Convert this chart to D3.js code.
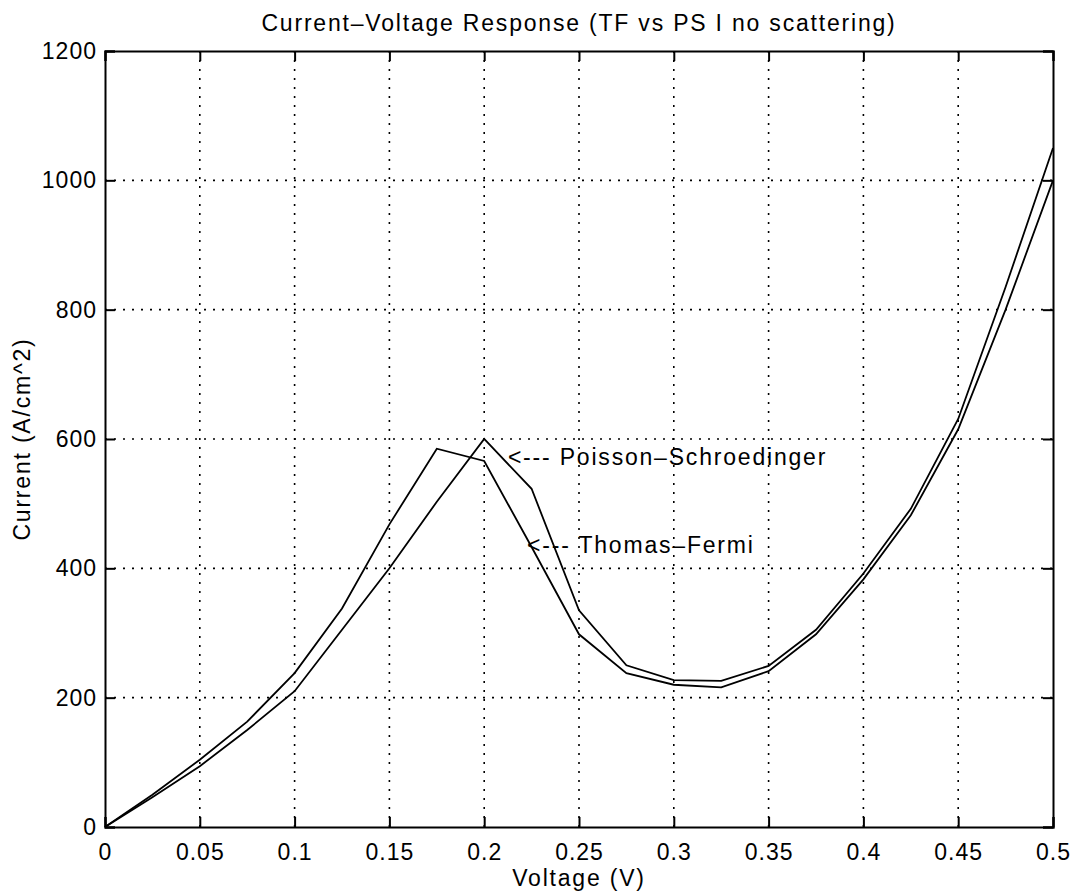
<!DOCTYPE html>
<html>
<head>
<meta charset="utf-8">
<script src="https://cdn.jsdelivr.net/npm/d3@7"></script>
<style>
  body { margin: 0; background: #fff; }
  text { font-family: "Liberation Sans", Arial, sans-serif; fill: #000; }
</style>
</head>
<body>
<svg id="chart"></svg>
<script>
// data
const voltage = [0, 0.025, 0.05, 0.075, 0.1, 0.125, 0.15, 0.175, 0.2, 0.225, 0.25,
                 0.275, 0.3, 0.325, 0.35, 0.375, 0.4, 0.425, 0.45, 0.475, 0.5];
const thomasFermi = [0, 50, 104, 163, 238, 338, 468, 585, 566, 433, 298,
                     238, 220, 216, 241, 298, 383, 482, 615, 800, 1000];
const poissonSchroedinger = [0, 46, 94, 150, 210, 305, 400, 503, 600, 523, 335,
                             250, 227, 226, 249, 305, 392, 492, 631, 835, 1050];
const xTicks = [0, 0.05, 0.1, 0.15, 0.2, 0.25, 0.3, 0.35, 0.4, 0.45, 0.5];
const yTicks = [0, 200, 400, 600, 800, 1000, 1200];
const annotations = [
  {label: "<--- Poisson\u2013Schroedinger", v: 0.2125, i: 560},
  {label: "<--- Thomas\u2013Fermi", v: 0.2226, i: 423}
];

const config = {
  width: 1074, height: 896,
  margin: {top: 51, right: 21, bottom: 69, left: 105},
  fontSize: '23px',
  spacing: '1.8px'
};

const svg = d3.select('#chart')
    .attr('width', config.width)
    .attr('height', config.height);

const w = config.width - config.margin.left - config.margin.right;
const h = config.height - config.margin.top - config.margin.bottom;

const chart = svg.append('g')
    .attr('transform', `translate(${config.margin.left},${config.margin.top})`);

const x = d3.scaleLinear().domain([0, 0.5]).range([0, w]);
const y = d3.scaleLinear().domain([0, 1200]).range([h, 0]);

// dotted grid
chart.selectAll('.vgrid')
    .data(xTicks.slice(1, -1))
    .join('line')
    .attr('x1', d => x(d)).attr('x2', d => x(d))
    .attr('y1', 0).attr('y2', h)
    .attr('stroke', '#000')
    .attr('stroke-width', 1.6)
    .attr('stroke-dasharray', '2,7');

chart.selectAll('.hgrid')
    .data(yTicks.slice(1, -1))
    .join('line')
    .attr('x1', 0).attr('x2', w)
    .attr('y1', d => y(d)).attr('y2', d => y(d))
    .attr('stroke', '#000')
    .attr('stroke-width', 1.6)
    .attr('stroke-dasharray', '2,7');

// axes, ticks pointing inside (matlab box style)
const fmtX = d => d === 0 ? '0' : String(+d.toFixed(2));
const tick = 10;

chart.append('g')
    .attr('transform', `translate(0,${h})`)
    .call(d3.axisBottom(x).tickValues(xTicks).tickSize(-tick).tickPadding(17).tickFormat(fmtX));
chart.append('g')
    .call(d3.axisTop(x).tickValues(xTicks).tickSize(-tick).tickFormat(''));
chart.append('g')
    .call(d3.axisLeft(y).tickValues(yTicks).tickSize(-tick).tickPadding(8).tickFormat(d3.format('d')));
chart.append('g')
    .attr('transform', `translate(${w},0)`)
    .call(d3.axisRight(y).tickValues(yTicks).tickSize(-tick).tickFormat(''));

chart.selectAll('.domain').attr('stroke', '#000').attr('stroke-width', 2);
chart.selectAll('.tick line').attr('stroke', '#000').attr('stroke-width', 2);
chart.selectAll('.tick text')
    .style('font-family', '"Liberation Sans", Arial, sans-serif')
    .style('font-size', config.fontSize)
    .style('letter-spacing', '1px')
    .attr('fill', '#000');

// curves
const line = d3.line()
    .x((d, i) => x(voltage[i]))
    .y(d => y(d));

[thomasFermi, poissonSchroedinger].forEach(series => {
  chart.append('path')
      .datum(series)
      .attr('d', line)
      .attr('fill', 'none')
      .attr('stroke', '#000')
      .attr('stroke-width', 1.8);
});

// labels on the curves
chart.selectAll('.note')
    .data(annotations)
    .join('text')
    .attr('x', d => x(d.v))
    .attr('y', d => y(d.i))
    .style('font-size', config.fontSize)
    .style('letter-spacing', config.spacing)
    .text(d => d.label);

// title and axis labels
svg.append('text')
    .attr('x', config.margin.left + w / 2)
    .attr('y', 31)
    .attr('text-anchor', 'middle')
    .style('font-size', config.fontSize)
    .style('letter-spacing', config.spacing)
    .text('Current\u2013Voltage Response (TF vs PS I no scattering)');

svg.append('text')
    .attr('x', config.margin.left + w / 2)
    .attr('y', 886)
    .attr('text-anchor', 'middle')
    .style('font-size', config.fontSize)
    .style('letter-spacing', config.spacing)
    .text('Voltage (V)');

svg.append('text')
    .attr('transform', `translate(30,${config.margin.top + h / 2}) rotate(-90)`)
    .attr('text-anchor', 'middle')
    .style('font-size', config.fontSize)
    .style('letter-spacing', config.spacing)
    .text('Current (A/cm^2)');
</script>
</body>
</html>
